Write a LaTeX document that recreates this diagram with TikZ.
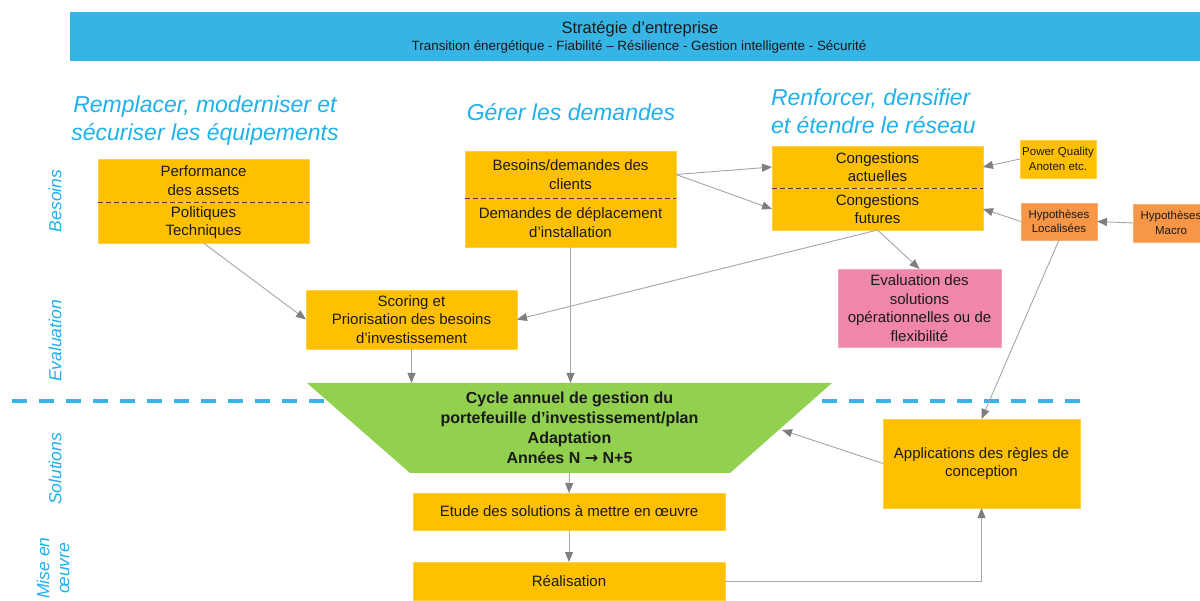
\documentclass[tikz,border=0pt]{standalone}
\usepackage{fontspec}
\setmainfont{Liberation Sans}
\newfontfamily\arrowfont{DejaVu Sans}
\usetikzlibrary{arrows.meta}
\definecolor{gold}{HTML}{FFC000}
\definecolor{hypo}{HTML}{F79646}
\definecolor{pinkbox}{HTML}{F086AB}
\definecolor{greenbox}{HTML}{92D050}
\definecolor{banblue}{HTML}{36B4E5}
\definecolor{headblue}{HTML}{1EB1EC}
\definecolor{linegray}{HTML}{A6A6A6}
\definecolor{headgray}{HTML}{7F7F7F}
\definecolor{txt}{HTML}{1A1A1A}
\begin{document}
\begin{tikzpicture}[x=1pt,y=-1pt,
  every node/.style={inner sep=0pt, outer sep=0pt, text=txt},
  box/.style={fill=gold, draw=gold!75!white, line width=0.6pt, align=center, font=\fontsize{15}{18.5}\selectfont},
  hbox/.style={fill=hypo, draw=hypo!75!white, line width=0.6pt, align=center, font=\fontsize{11.5}{14.5}\selectfont, minimum width=76pt},
  divider/.style={draw=black!75, dash pattern=on 5pt off 3pt, line width=0.9pt},
  conn/.style={draw=linegray, line width=0.9pt, -{Triangle[length=10pt,width=8pt,color=headgray]}},
  head/.style={text=headblue, font=\fontsize{23}{28}\selectfont\itshape},
  side/.style={text=headblue, font=\fontsize{17.5}{20}\selectfont\itshape, rotate=90, align=center},
]
\useasboundingbox (0,0) rectangle (1200,601);
\fill[white] (0,0) rectangle (1200,601);

% banner
\node[fill=banblue, minimum width=1140pt, minimum height=49pt] (banner) at (640,36.5) {};
\node[font=\fontsize{16.5}{18}\selectfont] (bt) at (640,29) {Stratégie d’entreprise};
\node[font=\fontsize{13.4}{15}\selectfont] (bs) at (639,47) {Transition énergétique - Fiabilité – Résilience - Gestion intelligente - Sécurité};

% headings
\node[head, align=center] (h1) at (205,121) {Remplacer, moderniser et\\sécuriser les équipements};
\node[head] (h2) at (571,112) {Gérer les demandes};
\node[head, align=left, anchor=west] (h3) at (771,111) {Renforcer, densifier\\et étendre le réseau};

% side labels
\node[side] (s1) at (55,201) {Besoins};
\node[side] (s2) at (55,341) {Evaluation};
\node[side] (s3) at (55,469) {Solutions};
\node[side] (s4) at (53,568) {Mise en\\œuvre};

% separator
\draw[banblue, line width=4pt, dash pattern=on 15pt off 12pt] (12,401) -- (1085,401);

% boxes
\node[box, minimum width=211pt, minimum height=43pt] (Atop) at (203.5,180.5) {Performance\\des assets};
\node[box, minimum width=211pt, minimum height=41pt] (Abot) at (203.5,222.5) {Politiques\\Techniques};
\draw[divider] (Atop.south west) -- (Atop.south east);

\node[box, minimum width=211pt, minimum height=47pt] (Btop) at (570.5,174.5) {Besoins/demandes des\\clients};
\node[box, minimum width=211pt, minimum height=49pt] (Bbot) at (570.5,222.5) {Demandes de déplacement\\d’installation};
\draw[divider] (Btop.south west) -- (Btop.south east);

\node[box, minimum width=211pt, minimum height=42pt] (Ctop) at (877.5,167) {Congestions\\actuelles};
\node[box, minimum width=211pt, minimum height=42pt] (Cbot) at (877.5,209) {Congestions\\futures};
\draw[divider] (Ctop.south west) -- (Ctop.south east);

\node[box, font=\fontsize{11.5}{14.5}\selectfont, minimum width=76pt, minimum height=38pt] (D) at (1058,159) {Power Quality\\Anoten etc.};
\node[hbox, minimum height=37pt] (E) at (1059,221.5) {Hypothèses\\Localisées};
\node[hbox, minimum height=38pt] (F) at (1171,223) {Hypothèses\\Macro};

\node[box, fill=pinkbox, draw=pinkbox!75!white, minimum width=163pt, minimum height=78pt] (G) at (919.5,308) {Evaluation des\\solutions\\opérationnelles ou de\\flexibilité};
\node[box, minimum width=211pt, minimum height=59pt] (H) at (411.5,319.5) {Scoring et\\Priorisation des besoins\\d’investissement};

% cycle
\fill[greenbox] (307,383) -- (832,383) -- (730,473) -- (410,473) -- cycle;
\node[font=\bfseries\fontsize{16}{20}\selectfont, align=center, minimum width=525pt, minimum height=90pt] (cycle) at (569.5,428) {Cycle annuel de gestion du\\portefeuille d’investissement/plan\\Adaptation\\Années N {\arrowfont\bfseries →} N+5};
\coordinate (cycR) at (782,430);

\node[box, minimum width=312pt, minimum height=37pt] (J) at (569,511.5) {Etude des solutions à mettre en œuvre};
\node[box, minimum width=312pt, minimum height=38pt] (K) at (569,581) {Réalisation};
\node[box, minimum width=197pt, minimum height=89pt] (L) at (981.5,463.5) {Applications des règles de\\conception};

% connectors
\draw[conn] (Abot.south) -- (H.west);
\draw[conn] (Btop.east) -- (Ctop.west);
\draw[conn] (Btop.east) -- (Cbot.west);
\draw[conn] (Cbot.south) -- (H.east);
\draw[conn] (Cbot.south) -- (G.north);
\draw[conn] (D.west) -- (Ctop.east);
\draw[conn] (E.west) -- (Cbot.east);
\draw[conn] (F.west) -- (E.east);
\draw[conn] (E.south) -- (L.north);
\draw[conn] (H.south) -- (H.south |- cycle.north);
\draw[conn] (Bbot.south) -- (Bbot.south |- cycle.north);
\draw[conn] (L.west) -- (cycR);
\draw[conn] (cycle.south) -- (J.north);
\draw[conn] (J.south) -- (K.north);
\draw[conn] (K.east) -| (L.south);
\end{tikzpicture}
\end{document}
